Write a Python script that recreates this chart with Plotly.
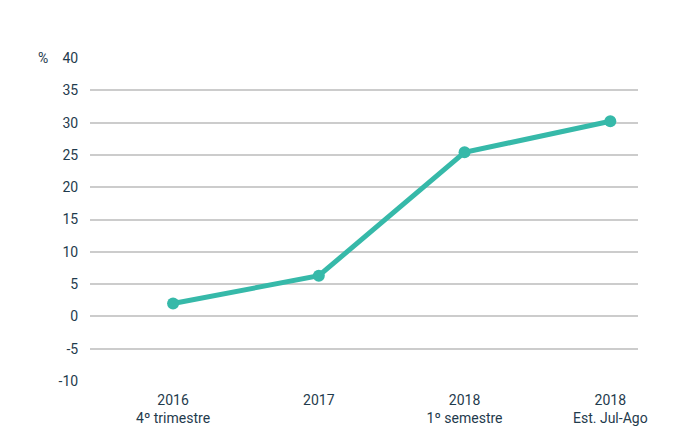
import plotly.graph_objects as go

categories = ["2016<br>4º trimestre", "2017", "2018<br>1º semestre", "2018<br>Est. Jul-Ago"]
values = [2.0, 6.3, 25.4, 30.2]
y_ticks = [-10, -5, 0, 5, 10, 15, 20, 25, 30, 35, 40]

txt = "#1f3b4d"
fig = go.Figure(go.Scatter(
    x=list(range(len(categories))), y=values, mode="lines+markers",
    line=dict(color="#36b9a9", width=5), marker=dict(size=12, color="#36b9a9"),
    hoverinfo="y"))
fig.update_layout(
    width=700, height=433, margin=dict(l=82, r=70, t=50, b=60),
    paper_bgcolor="white", plot_bgcolor="white", showlegend=False,
    font=dict(family="Roboto", size=14, color=txt),
    xaxis=dict(tickmode="array", tickvals=list(range(len(categories))), ticktext=categories,
               range=[-0.57, 3.19], showgrid=False, zeroline=False, showline=False,
               ticks="outside", ticklen=6, tickcolor="white"),
    yaxis=dict(range=[-10, 40], tickmode="array", tickvals=y_ticks,
               ticktext=[str(v) for v in y_ticks], showgrid=True, gridcolor="#cccccc",
               gridwidth=1.5, zeroline=False, ticks="outside", ticklen=8, tickcolor="white"),
    annotations=[dict(text="%", xref="paper", yref="y", x=-0.085, y=40, showarrow=False,
                      xanchor="center", yanchor="middle", font=dict(size=14, color=txt))])
fig.write_html("out.html")
